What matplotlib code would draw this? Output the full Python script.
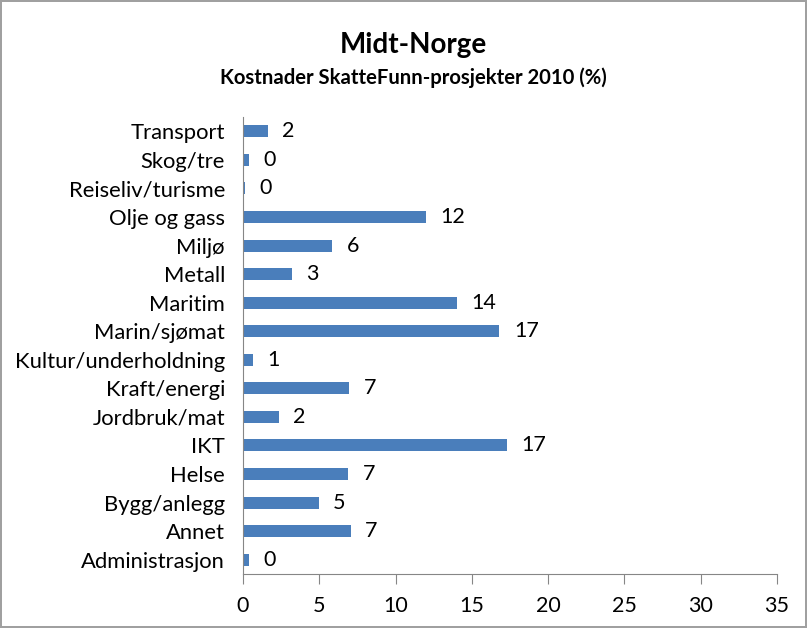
import matplotlib.pyplot as plt

# Categories from bottom to top, as drawn in the chart
categories = ["Administrasjon", "Annet", "Bygg/anlegg", "Helse", "IKT", "Jordbruk/mat",
              "Kraft/energi", "Kultur/underholdning", "Marin/sjømat", "Maritim", "Metall",
              "Miljø", "Olje og gass", "Reiseliv/turisme", "Skog/tre", "Transport"]
values = [0.39, 7.06, 4.96, 6.9, 17.3, 2.34, 6.97, 0.65, 16.8, 14.0, 3.2, 5.84, 11.97, 0.11, 0.39, 1.62]
xticks = [0, 5, 10, 15, 20, 25, 30, 35]

plt.rcParams['font.family'] = ['Lato', 'DejaVu Sans']

fig = plt.figure(figsize=(8.07, 6.28), dpi=100)
fig.patch.set_edgecolor('#a0a0a0')
fig.patch.set_linewidth(1.5)
ax = fig.add_axes([243 / 807, 1 - 574 / 628, (777 - 243) / 807, (574 - 117) / 628])

y = range(len(categories))
ax.barh(y, values, height=0.42, color='#4a7ebb')
for i, v in enumerate(values):
    ax.text(v + 0.95, i, f"{v:.0f}", va='center', ha='left', fontsize=15.5)

ax.set_yticks(list(y))
ax.set_yticklabels(categories, fontsize=15.8)
ax.set_ylim(-0.5, len(categories) - 0.5)
ax.set_xlim(0, 35)
ax.set_xticks(xticks)
ax.set_xticklabels([str(t) for t in xticks], fontsize=15.5)
ax.tick_params(axis='y', length=0, pad=13)
ax.tick_params(axis='x', length=7, color='#868686', pad=9)
for s in ['top', 'right']:
    ax.spines[s].set_visible(False)
for s in ['left', 'bottom']:
    ax.spines[s].set_color('#868686')

fig.text(413 / 807, 1 - 45 / 628, "Midt-Norge", ha='center', va='center',
         fontsize=20, fontweight='bold')
fig.text(413 / 807, 1 - 78 / 628, "Kostnader SkatteFunn-prosjekter 2010 (%)", ha='center',
         va='center', fontsize=14.6, fontweight='bold')

fig.savefig('out.png', dpi=100, edgecolor=fig.get_edgecolor())
